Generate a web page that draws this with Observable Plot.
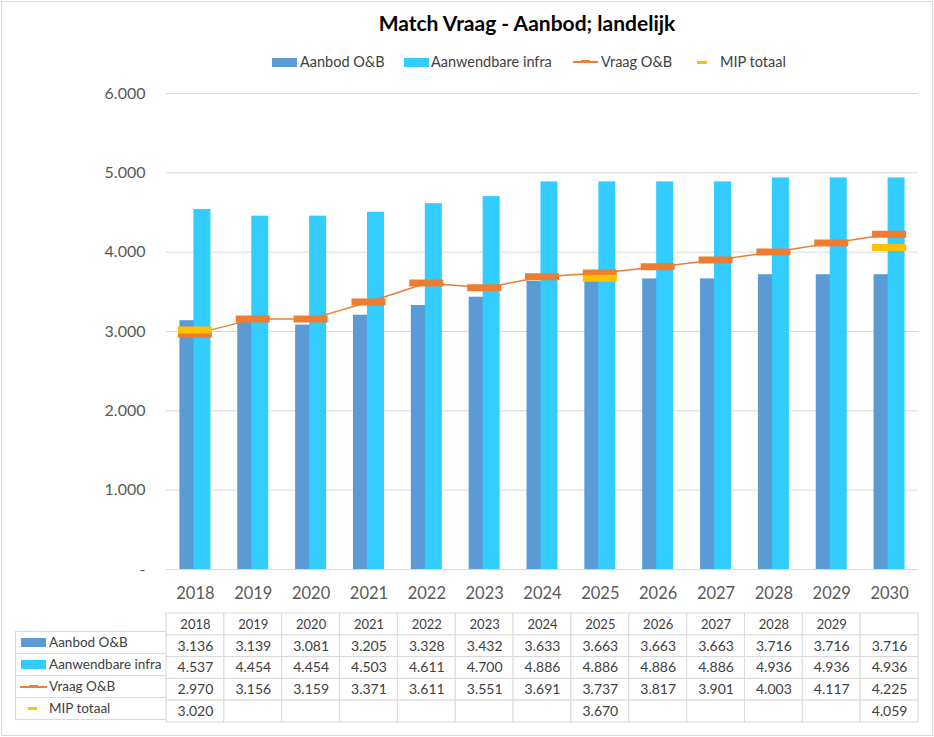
<!DOCTYPE html>
<html><head><meta charset="utf-8">
<script src="https://cdn.jsdelivr.net/npm/d3@7"></script>
<script src="https://cdn.jsdelivr.net/npm/@observablehq/plot@0.6"></script>
<style>
body{margin:0;background:#fff;font-family:Lato,sans-serif;}
#root{position:relative;width:934px;height:737px;overflow:hidden;background:#fff;}
.abs{position:absolute;}
#title{left:0;width:1054px;top:10px;text-align:center;font-weight:bold;font-size:21px;color:#000;letter-spacing:0px;}
.leg{position:absolute;top:53px;font-size:14.5px;color:#404040;white-space:nowrap;}
.sw{position:absolute;}
#labels{left:15px;top:631px;width:151px;}
.lrow{position:relative;height:21px;border-left:1px solid #d9d9d9;border-bottom:1px solid #d9d9d9;font-size:13.5px;color:#404040;}
.lrow span{position:absolute;left:33px;top:2px;white-space:nowrap;}
#frame{left:1px;top:1px;width:930px;height:733px;border:1px solid #d9d9d9;pointer-events:none;}
</style></head>
<body><div id="root"></div>
<script>
const years = ["2018","2019","2020","2021","2022","2023","2024","2025","2026","2027","2028","2029","2030"];
const headerYears = ["2018","2019","2020","2021","2022","2023","2024","2025","2026","2027","2028","2029",""];
const aanbod = [3136,3139,3081,3205,3328,3432,3633,3663,3663,3663,3716,3716,3716];
const infra  = [4537,4454,4454,4503,4611,4700,4886,4886,4886,4886,4936,4936,4936];
const vraag  = [2970,3156,3159,3371,3611,3551,3691,3737,3817,3901,4003,4117,4225];
const mip    = [3020,null,null,null,null,null,null,3670,null,null,null,null,4059];
const yTicks = [0,1000,2000,3000,4000,5000,6000];
const seriesNames = ["Aanbod O&B","Aanwendbare infra","Vraag O&B","MIP totaal"];
const colors = {aanbod:"#5b9bd5", infra:"#33ccff", vraag:"#ed7d31", mip:"#ffc000"};

const fmt = v => v == null ? "" : (v === 0 ? "-" : d3.format(",")(v).replace(/,/g, "."));
const data = years.map((y, i) => ({year: y, aanbod: aanbod[i], infra: infra[i], vraag: vraag[i], mip: mip[i]}));

const W = 934, mL = 166, mR = 16;
const step = (W - mL - mR) / years.length;
const root = document.getElementById("root");

// Title
const t = document.createElement("div");
t.id = "title"; t.className = "abs"; t.textContent = "Match Vraag - Aanbod; landelijk";
root.appendChild(t);

// Legend
function addLeg(x, label, swatch) {
  const sw = document.createElement("div");
  sw.className = "sw"; Object.assign(sw.style, swatch);
  root.appendChild(sw);
  const d = document.createElement("div");
  d.className = "leg"; d.style.left = x + "px"; d.textContent = label;
  root.appendChild(d);
}
addLeg(300, seriesNames[0], {left:"272px", top:"58px", width:"25px", height:"9px", background:colors.aanbod});
addLeg(431, seriesNames[1], {left:"404px", top:"58px", width:"25px", height:"9px", background:colors.infra});
addLeg(601, seriesNames[2], {left:"573px", top:"61px", width:"25px", height:"1.5px", background:colors.vraag});
addLeg(720, seriesNames[3], {left:"697px", top:"61px", width:"10px", height:"3px", background:colors.mip});
{
  const m = document.createElement("div"); m.className = "sw";
  Object.assign(m.style, {left:"581px", top:"60px", width:"9px", height:"3px", background:colors.vraag});
  root.appendChild(m);
}

// Chart
const chart = Plot.plot({
  width: W, height: 610,
  marginTop: 93, marginBottom: 41, marginLeft: mL, marginRight: mR,
  style: {fontFamily: "Lato, sans-serif", color: "#595959", background: "transparent"},
  x: {type: "band", domain: years, padding: 0, round: false},
  y: {domain: [0, 6000]},
  marks: [
    Plot.ruleY(yTicks, {stroke: "#d9d9d9", strokeWidth: 1}),
    Plot.axisY({ticks: yTicks, tickFormat: fmt, tickSize: 0, tickPadding: 21, fontSize: 16, label: null}),
    Plot.axisX({tickSize: 0, tickPadding: 18, fontSize: 16.5, label: null}),
    Plot.barY(data, {x: "year", y: "aanbod", fill: colors.aanbod, insetLeft: step/2 - 15.5, insetRight: step/2 - 1}),
    Plot.barY(data, {x: "year", y: "infra", fill: colors.infra, insetLeft: step/2 - 1.5, insetRight: step/2 - 15.5}),
    Plot.lineY(data, {x: "year", y: "vraag", stroke: colors.vraag, strokeWidth: 1.5}),
    Plot.tickY(data, {x: "year", y: "vraag", stroke: colors.vraag, strokeWidth: 7, insetLeft: step/2 - 17, insetRight: step/2 - 17}),
    Plot.tickY(data.filter(d => d.mip != null), {x: "year", y: "mip", stroke: colors.mip, strokeWidth: 7, insetLeft: step/2 - 17, insetRight: step/2 - 17})
  ]
});
chart.style.position = "absolute"; chart.style.left = "0px"; chart.style.top = "0px";
root.appendChild(chart);

// Data table
const rowKeys = ["header", ...seriesNames];
const rowVals = [headerYears, aanbod.map(fmt), infra.map(fmt), vraag.map(fmt), mip.map(fmt)];
const cells = [];
rowKeys.forEach((r, ri) => years.forEach((y, i) => cells.push({row: r, year: y, text: rowVals[ri][i], header: ri === 0})));
const rowH = 21.8;
const table = Plot.plot({
  width: W, height: Math.round(rowH * 5) + 2,
  marginTop: 1, marginBottom: 1, marginLeft: mL, marginRight: mR,
  style: {fontFamily: "Lato, sans-serif", background: "transparent"},
  x: {type: "band", domain: years, padding: 0, round: false, axis: null},
  y: {type: "band", domain: rowKeys, padding: 0, round: false, axis: null},
  marks: [
    Plot.cell(cells, {x: "year", y: "row", fill: "white", stroke: "#d9d9d9", strokeWidth: 1}),
    Plot.text(cells.filter(d => d.header), {x: "year", y: "row", text: "text", fontSize: 13, fill: "#404040"}),
    Plot.text(cells.filter(d => !d.header), {x: "year", y: "row", text: "text", fontSize: 14, fill: "#404040"})
  ]
});
table.style.position = "absolute"; table.style.left = "0px"; table.style.top = "612px";
root.appendChild(table);

// Row labels with legend keys
const lab = document.createElement("div");
lab.id = "labels"; lab.className = "abs";
lab.style.borderTop = "1px solid #d9d9d9";
const keys = [
  [{left:"5px", top:"6px", width:"25px", height:"9px", background:colors.aanbod}],
  [{left:"5px", top:"6px", width:"25px", height:"9px", background:colors.infra}],
  [{left:"4px", top:"10px", width:"27px", height:"1.5px", background:colors.vraag}, {left:"13px", top:"9px", width:"9px", height:"3px", background:colors.vraag}],
  [{left:"12px", top:"9px", width:"9px", height:"3px", background:colors.mip}]
];
seriesNames.forEach((n, i) => {
  const r = document.createElement("div"); r.className = "lrow";
  keys[i].forEach(k => { const s = document.createElement("div"); s.style.position = "absolute"; Object.assign(s.style, k); r.appendChild(s); });
  const sp = document.createElement("span"); sp.textContent = n; r.appendChild(sp);
  lab.appendChild(r);
});
root.appendChild(lab);

const fr = document.createElement("div"); fr.id = "frame"; fr.className = "abs"; root.appendChild(fr);
</script></body></html>
